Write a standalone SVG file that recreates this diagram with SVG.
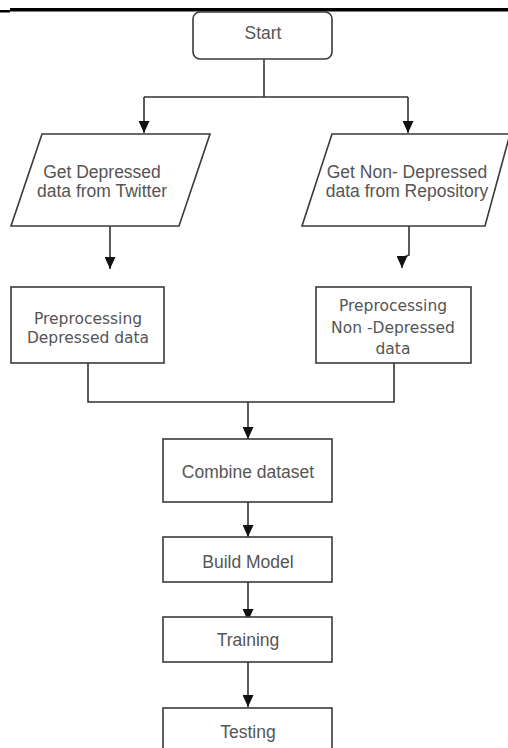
<svg xmlns="http://www.w3.org/2000/svg" width="508" height="748" viewBox="0 0 508 748">
<style>
.box{fill:#fff;stroke:#3a3a3a;stroke-width:1.6}
.t{font-family:"Liberation Sans",Arial,sans-serif;font-size:17.5px;fill:#555;text-anchor:middle}
.d{font-family:"DejaVu Sans",Verdana,sans-serif;font-size:15.5px;fill:#555;text-anchor:middle}
.c{fill:none;stroke:#333;stroke-width:1.6}
</style>
<defs>
<marker id="ah" markerUnits="userSpaceOnUse" markerWidth="12" markerHeight="11" refX="12" refY="5.5" orient="auto">
<path d="M0,0 L12,5.5 L0,11 z" fill="#111"/>
</marker>
</defs>
<rect width="508" height="748" fill="#fff"/>
<rect x="10" y="8" width="498" height="3.5" fill="#000"/>
<rect x="0" y="10" width="10" height="2.5" fill="#000"/>
<g id="connectors">
<path class="c" d="M264,59 V97 M144,97 H408"/>
<path class="c" d="M144,97 V133" marker-end="url(#ah)"/>
<path class="c" d="M408,97 V133" marker-end="url(#ah)"/>
<path class="c" d="M110,226 V269" marker-end="url(#ah)"/>
<path class="c" d="M409,226 V255 L402,258 V268" marker-end="url(#ah)"/>
<path class="c" d="M88,363 V402 H394 V363"/>
<path class="c" d="M248,402 V439" marker-end="url(#ah)"/>
<path class="c" d="M248,502 V537" marker-end="url(#ah)"/>
<path class="c" d="M248,582 V621" marker-end="url(#ah)"/>
<path class="c" d="M248,662 V707" marker-end="url(#ah)"/>
</g>
<g id="start">
<rect class="box" x="193" y="12" width="139" height="47" rx="7"/>
<text class="t" x="263" y="39">Start</text>
</g>
<g id="get-depressed">
<polygon class="box" points="42,134 210,134 179,226 11,226"/>
<text class="t" x="102" y="178">Get Depressed</text>
<text class="t" x="102" y="197">data from Twitter</text>
</g>
<g id="get-non-depressed">
<polygon class="box" points="332,134 510,134 485,226 302,226"/>
<text class="t" x="407" y="178">Get Non- Depressed</text>
<text class="t" x="407" y="197">data from Repository</text>
</g>
<g id="pre-depressed">
<rect class="box" x="11" y="287" width="153" height="76"/>
<text class="d" x="88" y="324">Preprocessing</text>
<text class="d" x="88" y="343">Depressed data</text>
</g>
<g id="pre-non-depressed">
<rect class="box" x="316" y="287" width="155" height="76"/>
<text class="d" x="393" y="311">Preprocessing</text>
<text class="d" x="393" y="333">Non -Depressed</text>
<text class="d" x="393" y="354">data</text>
</g>
<g id="combine">
<rect class="box" x="163" y="439" width="169" height="63"/>
<text class="t" x="248" y="478">Combine dataset</text>
</g>
<g id="build">
<rect class="box" x="163" y="537" width="169" height="45"/>
<text class="t" x="248" y="568">Build Model</text>
</g>
<g id="training">
<rect class="box" x="163" y="617" width="169" height="45"/>
<text class="t" x="248" y="646">Training</text>
</g>
<g id="testing">
<rect class="box" x="163" y="708" width="169" height="60"/>
<text class="t" x="248" y="738">Testing</text>
</g>
</svg>
